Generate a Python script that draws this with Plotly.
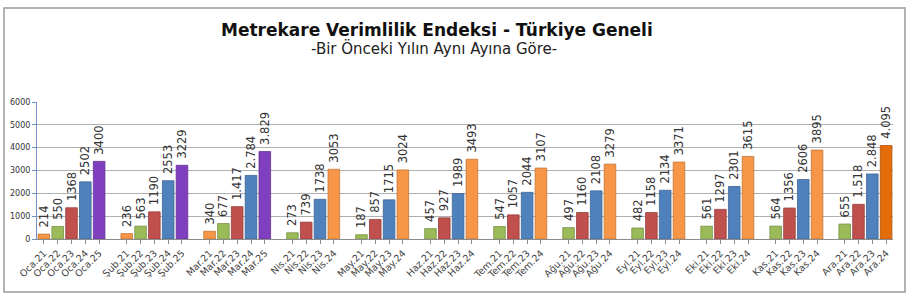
import plotly.graph_objects as go

months = ["Oca", "Şub", "Mar", "Nis", "May", "Haz", "Tem", "Ağu", "Eyl", "Eki", "Kas", "Ara"]
years_per_month = [
    ["21", "22", "23", "24", "25"],
    ["21", "22", "23", "24", "25"],
    ["21", "22", "23", "24", "25"],
    ["21", "22", "23", "24"],
    ["21", "22", "23", "24"],
    ["21", "22", "23", "24"],
    ["21", "22", "23", "24"],
    ["21", "22", "23", "24"],
    ["21", "22", "23", "24"],
    ["21", "22", "23", "24"],
    ["21", "22", "23", "24"],
    ["21", "22", "23", "24"],
]
values = [
    [214, 550, 1368, 2502, 3400],
    [236, 563, 1190, 2553, 3229],
    [340, 677, 1417, 2784, 3829],
    [273, 739, 1738, 3053],
    [187, 857, 1715, 3024],
    [457, 927, 1989, 3493],
    [547, 1057, 2044, 3107],
    [497, 1160, 2108, 3279],
    [482, 1158, 2134, 3371],
    [561, 1297, 2301, 3615],
    [564, 1356, 2606, 3895],
    [655, 1518, 2848, 4095],
]
value_labels = [
    ["214", "550", "1368", "2502", "3400"],
    ["236", "563", "1190", "2553", "3229"],
    ["340", "677", "1.417", "2.784", "3.829"],
    ["273", "739", "1738", "3053"],
    ["187", "857", "1715", "3024"],
    ["457", "927", "1989", "3493"],
    ["547", "1057", "2044", "3107"],
    ["497", "1160", "2108", "3279"],
    ["482", "1158", "2134", "3371"],
    ["561", "1297", "2301", "3615"],
    ["564", "1356", "2606", "3895"],
    ["655", "1.518", "2.848", "4.095"],
]

ORANGE = "#F79646"
GREEN = "#9BBB59"
RED = "#C0504D"
BLUE = "#4F81BD"
PURPLE = "#7F3FBF"
DARK_ORANGE = "#E46C0A"
five_colors = [ORANGE, GREEN, RED, BLUE, PURPLE]
four_colors = [GREEN, RED, BLUE, ORANGE]

xs, ys, texts, ticks, colors = [], [], [], [], []
pos = 0
for mi, m in enumerate(months):
    ylist = years_per_month[mi]
    pal = five_colors if len(ylist) == 5 else four_colors
    for j, yr in enumerate(ylist):
        xs.append(pos)
        ys.append(values[mi][j])
        texts.append("\u00a0" + value_labels[mi][j])
        ticks.append(f"{m}.{yr}")
        colors.append(pal[j])
        pos += 1
    pos += 1  # gap slot between months
colors[-1] = DARK_ORANGE

def darker(hexc, f=0.78):
    h = hexc.lstrip("#")
    r, g, b = (int(h[i:i + 2], 16) for i in (0, 2, 4))
    return "#%02x%02x%02x" % (int(r * f), int(g * f), int(b * f))

fig = go.Figure()
fig.add_trace(go.Bar(
    x=xs, y=ys, text=texts,
    textposition="outside", textangle=-90, constraintext="none",
    cliponaxis=False,
    textfont=dict(family="DejaVu Sans", size=11.5, color="#333333"),
    marker=dict(color=colors, line=dict(color=[darker(c) for c in colors], width=0.8)),
    width=0.84,
    hoverinfo="skip",
))

PL, PR, PT, PB = 37, 893, 102, 239
PW, PH = PR - PL, PB - PT

fig.update_layout(
    width=915, height=299,
    margin=dict(l=PL, r=915 - PR, t=PT, b=299 - PB, autoexpand=False),
    paper_bgcolor="white", plot_bgcolor="white",
    showlegend=False,
    font=dict(family="DejaVu Sans", color="#333333"),
    annotations=[
        dict(text="<b>Metrekare Verimlilik Endeksi - Türkiye Geneli</b>",
             xref="paper", yref="paper", x=(437 - PL) / PW, y=(PB - 30) / PH,
             xanchor="center", yanchor="middle", showarrow=False,
             font=dict(family="DejaVu Sans", size=17, color="#111111")),
        dict(text="-Bir Önceki Yılın Aynı Ayına Göre-",
             xref="paper", yref="paper", x=(434 - PL) / PW, y=(PB - 48) / PH,
             xanchor="center", yanchor="middle", showarrow=False,
             font=dict(family="DejaVu Sans", size=15, color="#222222")),
    ],
    shapes=[
        dict(type="rect", xref="paper", yref="paper",
             x0=(4 - PL) / PW, x1=(905 - PL) / PW,
             y0=(PB - 292) / PH, y1=(PB - 8) / PH,
             line=dict(color="#9a9a9a", width=1.5), fillcolor="rgba(0,0,0,0)", layer="above"),
    ],
)

fig.update_xaxes(
    tickmode="array", tickvals=xs, ticktext=ticks, tickangle=-45,
    range=[-0.5, pos - 1 - 0.5], automargin=False,
    tickfont=dict(family="DejaVu Sans", size=9.5, color="#444444"),
    showline=True, linecolor="#8c8c8c", linewidth=1,
    ticks="outside", ticklen=4, tickcolor="#8c8c8c",
    showgrid=False, zeroline=False,
)
fig.update_yaxes(
    range=[0, 6000], dtick=1000, automargin=False,
    tickfont=dict(family="DejaVu Sans", size=8, color="#333333"),
    showgrid=True, gridcolor="#b0b0b0", gridwidth=1,
    showline=True, linecolor="#6f93c8", linewidth=1,
    ticks="outside", ticklen=4, tickcolor="#6f93c8",
    zeroline=False,
)

fig.write_html(
    "out.html",
    config={"displayModeBar": False},
    post_script="document.body.style.margin='0';document.body.style.padding='0';",
)
